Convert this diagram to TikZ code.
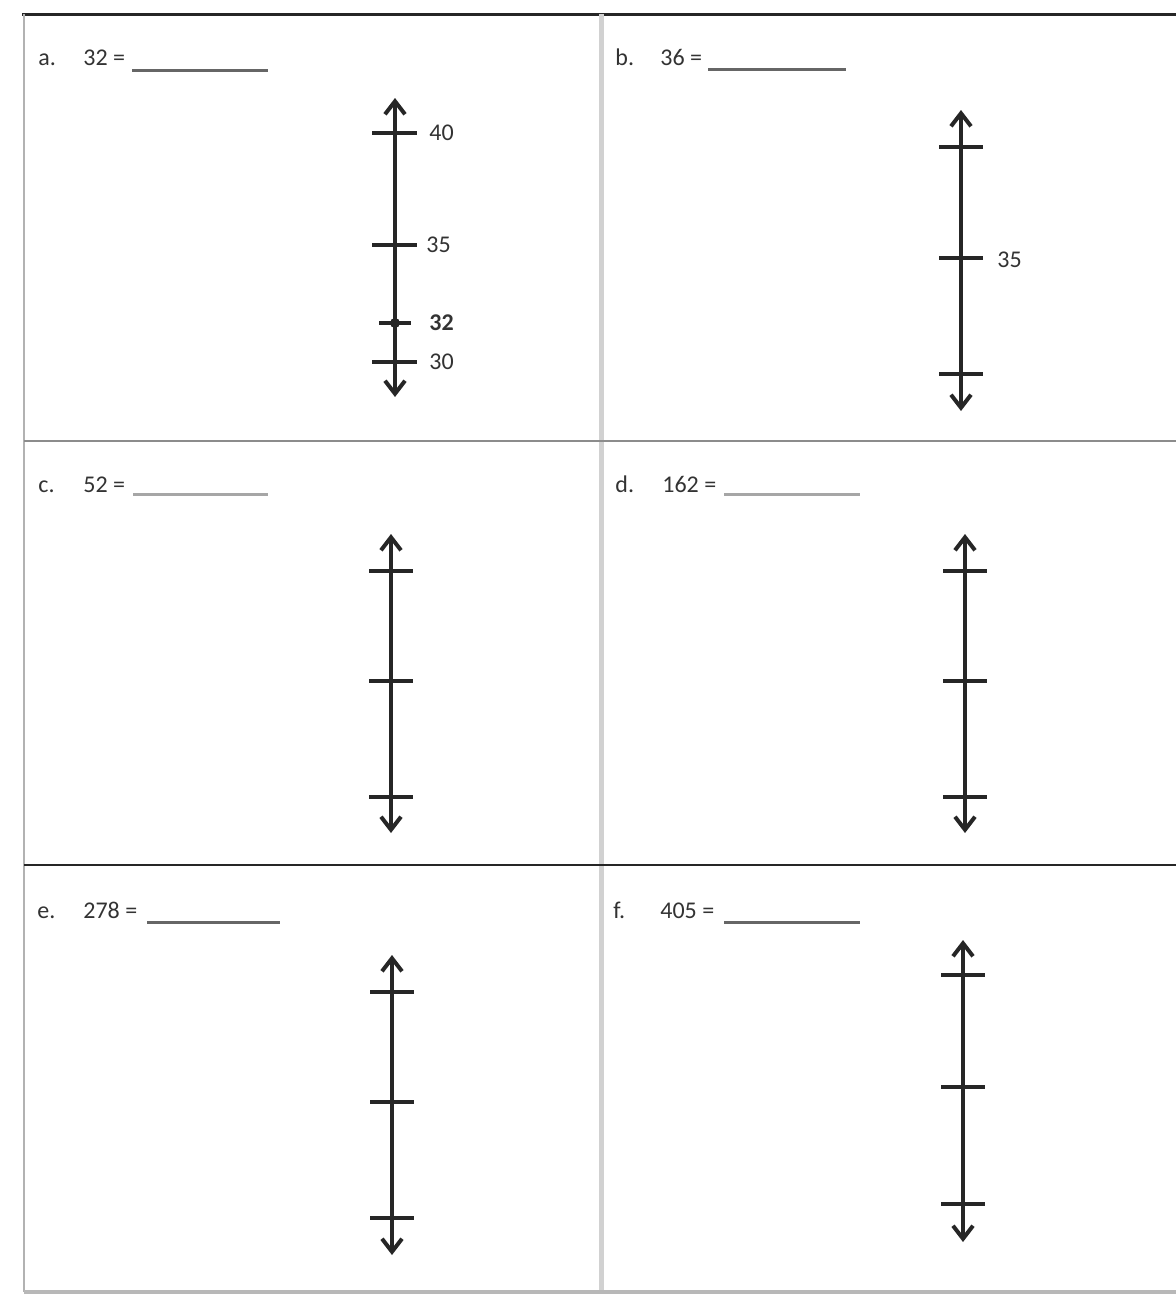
\documentclass[tikz,border=0pt]{standalone}
\usepackage{fontspec}
\setmainfont{Carlito}
\usetikzlibrary{arrows.meta}

\tikzset{
  numline/.style={line width=2pt, black!85,
    {Straight Barb[length=6.5pt,width=10pt]}-{Straight Barb[length=6.5pt,width=10pt]}},
  tickmark/.style={line width=2pt, black!85},
  lbl/.style={font=\fontsize{12}{14}\selectfont, inner sep=0pt, anchor=base west, text=black!80},
  blank/.style={line width=1.5pt, black!60},
}

\begin{document}
\begin{tikzpicture}[x=0.5pt,y=-0.5pt]
\useasboundingbox (0,0) rectangle (1176,1301);

% table lines
\draw[line width=1.5pt, black!85] (22,14) -- (1176,14);
\draw[line width=1pt, black!30] (24,14) -- (24,1292);
\draw[line width=2.5pt, black!18] (601,14) -- (601,1292);
\draw[line width=1pt, black!45] (24,441) -- (1176,441);
\draw[line width=1.2pt, black!85] (24,865) -- (1176,865);
\draw[line width=2pt, black!28] (24,1292) -- (1176,1292);

% a.
\node[lbl] (alet) at (38,65) {a.};
\node[lbl] (aq) at (83,65) {32 =};
\draw[blank] (132,70) -- (268,70);
\coordinate (atop) at (395,98);
\coordinate (abot) at (395,397);
\draw[numline] (atop) -- (abot);
\foreach \y in {133,245,362}
  \draw[tickmark] (395,\y) +(-23,0) -- +(22,0);
\draw[tickmark] (395,323) +(-16,0) -- +(16,0);
\fill[black!85] (395,323) circle (2.5pt);
\node[lbl, anchor=west] (a40) at (429,133) {40};
\node[lbl, anchor=west] (a35) at (426,245) {35};
\node[lbl, anchor=west] (a32) at (429,323) {\textbf{32}};
\node[lbl, anchor=west] (a30) at (429,362) {30};

% b.
\node[lbl] (blet) at (615,65) {b.};
\node[lbl] (bq) at (660,65) {36 =};
\draw[blank] (708,69) -- (846,69);
\coordinate (btop) at (961,110);
\coordinate (bbot) at (961,411);
\draw[numline] (btop) -- (bbot);
\foreach \y in {147,258,374}
  \draw[tickmark] (961,\y) +(-22,0) -- +(22,0);
\node[lbl, anchor=west] (b35) at (997,260) {35};

% c.
\node[lbl] (clet) at (38,492) {c.};
\node[lbl] (cq) at (83,492) {52 =};
\draw[blank, black!35] (133,494) -- (268,494);
\coordinate (ctop) at (391,534);
\coordinate (cbot) at (391,833);
\draw[numline] (ctop) -- (cbot);
\foreach \y in {571,681,797}
  \draw[tickmark] (391,\y) +(-22,0) -- +(22,0);

% d.
\node[lbl] (dlet) at (615,492) {d.};
\node[lbl] (dq) at (662,492) {162 =};
\draw[blank, black!35] (724,494) -- (860,494);
\coordinate (dtop) at (965,534);
\coordinate (dbot) at (965,833);
\draw[numline] (dtop) -- (dbot);
\foreach \y in {571,681,797}
  \draw[tickmark] (965,\y) +(-22,0) -- +(22,0);

% e.
\node[lbl] (elet) at (37,918) {e.};
\node[lbl] (eq) at (83,918) {278 =};
\draw[blank] (147,922) -- (280,922);
\coordinate (etop) at (392,955);
\coordinate (ebot) at (392,1255);
\draw[numline] (etop) -- (ebot);
\foreach \y in {992,1102,1218}
  \draw[tickmark] (392,\y) +(-22,0) -- +(22,0);

% f.
\node[lbl] (flet) at (613,918) {f.};
\node[lbl] (fq) at (660,918) {405 =};
\draw[blank] (724,922) -- (860,922);
\coordinate (ftop) at (963,940);
\coordinate (fbot) at (963,1242);
\draw[numline] (ftop) -- (fbot);
\foreach \y in {975,1087,1204}
  \draw[tickmark] (963,\y) +(-22,0) -- +(22,0);
\end{tikzpicture}
\end{document}
